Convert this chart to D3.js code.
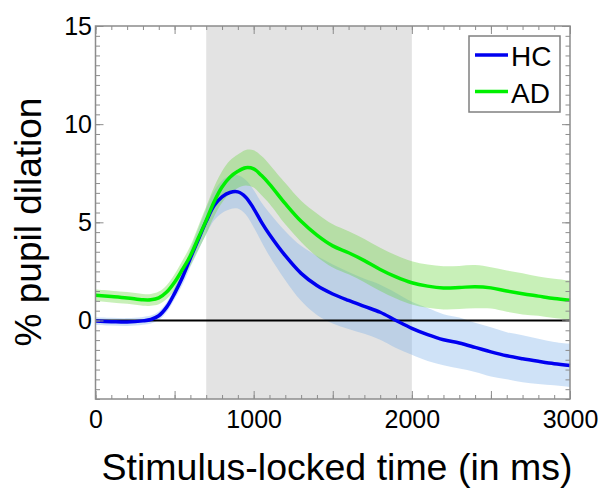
<!DOCTYPE html>
<html>
<head>
<meta charset="utf-8">
<script src="https://cdn.jsdelivr.net/npm/d3@7"></script>
<style>
  body { margin: 0; background: #fff; }
  svg { display: block; font-family: "Liberation Sans", Arial, sans-serif; }
</style>
</head>
<body>
<svg width="603" height="490"></svg>
<script>
// pupil dilation time course, HC vs AD, mean +/- sem
const times = [0,100,200,300,350,400,450,500,550,600,650,700,750,800,850,900,950,1000,1050,1100,
  1200,1300,1400,1500,1600,1700,1800,1900,2000,2100,2200,2300,2400,2500,2600,2700,2800,2900,3000];
const hcMean = [-0.03,-0.06,-0.08,-0.02,0.05,0.24,0.68,1.38,2.2,3.18,4.12,5.05,5.85,6.3,6.52,6.55,6.28,5.7,5.0,4.38,
  3.3,2.4,1.78,1.35,1.02,0.72,0.42,0.0,-0.4,-0.72,-0.98,-1.15,-1.37,-1.6,-1.8,-1.95,-2.08,-2.2,-2.29];
const hcSem = [0.2,0.2,0.2,0.2,0.2,0.22,0.25,0.3,0.38,0.45,0.55,0.65,0.75,0.82,0.85,0.85,0.88,0.95,1.0,1.1,
  1.25,1.4,1.5,1.5,1.45,1.4,1.4,1.4,1.35,1.35,1.3,1.3,1.25,1.25,1.2,1.2,1.15,1.1,1.1];
const adMean = [1.28,1.22,1.15,1.05,1.05,1.15,1.45,1.95,2.6,3.3,4.2,5.1,6.05,6.8,7.3,7.6,7.78,7.72,7.38,6.95,
  5.95,5.05,4.35,3.8,3.45,3.05,2.6,2.22,1.92,1.75,1.66,1.68,1.72,1.66,1.5,1.36,1.24,1.12,1.03];
const adSem = [0.3,0.3,0.3,0.3,0.3,0.32,0.35,0.4,0.45,0.5,0.6,0.7,0.75,0.8,0.85,0.85,0.9,0.95,1.0,1.0,
  1.05,1.05,1.1,1.1,1.1,1.1,1.1,1.1,1.1,1.1,1.1,1.1,1.1,1.05,1.05,1.05,1.0,1.0,1.0];
const shadeWindow = [700, 2000];
const xTickLabels = [0, 1000, 2000, 3000];
const yTickLabels = [0, 5, 10, 15];
const groups = ["HC", "AD"];

const svg = d3.select('svg');
const pLeft = 95.5, pRight = 570, pTop = 26, pBottom = 399;

const x = d3.scaleLinear().domain([0, 3000]).range([pLeft, pRight]);
const y = d3.scaleLinear().domain([-4, 15]).range([pBottom, pTop]);

const series = [
  {name: groups[0], mean: hcMean, sem: hcSem, line: '#0000f0', band: 'rgb(117,171,232)'},
  {name: groups[1], mean: adMean, sem: adSem, line: '#00f000', band: 'rgb(97,211,51)'}
];

// stimulus window
svg.append('rect')
  .attr('x', x(shadeWindow[0]))
  .attr('y', pTop)
  .attr('width', x(shadeWindow[1]) - x(shadeWindow[0]))
  .attr('height', pBottom - pTop)
  .attr('fill', '#e3e3e3');

const curve = d3.curveCatmullRom.alpha(0.5);

series.forEach(function(s) {
  const area = d3.area()
    .x(function(d, i) { return x(times[i]); })
    .y0(function(d, i) { return y(s.mean[i] - s.sem[i]); })
    .y1(function(d, i) { return y(s.mean[i] + s.sem[i]); })
    .curve(curve);
  svg.append('path')
    .datum(s.mean)
    .attr('d', area)
    .attr('fill', s.band)
    .attr('fill-opacity', 0.35);
});

// zero line
svg.append('line')
  .attr('x1', x(0)).attr('x2', x(3000))
  .attr('y1', y(0)).attr('y2', y(0))
  .attr('stroke', '#000')
  .attr('stroke-width', 2);

series.forEach(function(s) {
  const line = d3.line()
    .x(function(d, i) { return x(times[i]); })
    .y(function(d) { return y(d); })
    .curve(curve);
  svg.append('path')
    .datum(s.mean)
    .attr('d', line)
    .attr('fill', 'none')
    .attr('stroke', s.line)
    .attr('stroke-width', 3.5);
});

// axes, ticks pointing inward
const axisColor = '#8c8c8c';
const xMinor = d3.range(0, 3001, 100);
const xMajor = d3.range(0, 3001, 500);
const yMinor = d3.range(-4, 15.01, 0.5);
const yMajor = yTickLabels;

function styleAxis(g) {
  g.select('.domain').remove();
  g.selectAll('.tick line').attr('stroke', axisColor).attr('stroke-width', 1);
  g.selectAll('.tick text').attr('fill', '#000').attr('font-size', 25)
    .attr('font-family', '"Liberation Sans", Arial, sans-serif');
}

svg.append('g').attr('transform', 'translate(0,' + pBottom + ')')
  .call(d3.axisBottom(x).tickValues(xMinor).tickSize(-4).tickFormat(''))
  .call(styleAxis);
svg.append('g').attr('transform', 'translate(0,' + pBottom + ')')
  .call(d3.axisBottom(x).tickValues(xMajor).tickSize(-8).tickPadding(11)
    .tickFormat(function(d) { return xTickLabels.indexOf(d) >= 0 ? d : ''; }))
  .call(styleAxis);
svg.append('g').attr('transform', 'translate(0,' + pTop + ')')
  .call(d3.axisTop(x).tickValues(xMinor).tickSize(-4).tickFormat(''))
  .call(styleAxis);
svg.append('g').attr('transform', 'translate(0,' + pTop + ')')
  .call(d3.axisTop(x).tickValues(xMajor).tickSize(-8).tickFormat(''))
  .call(styleAxis);

svg.append('g').attr('transform', 'translate(' + pLeft + ',0)')
  .call(d3.axisLeft(y).tickValues(yMinor).tickSize(-4.5).tickFormat(''))
  .call(styleAxis);
svg.append('g').attr('transform', 'translate(' + pLeft + ',0)')
  .call(d3.axisLeft(y).tickValues(yMajor).tickSize(-8).tickPadding(3.5))
  .call(styleAxis);
svg.append('g').attr('transform', 'translate(' + pRight + ',0)')
  .call(d3.axisRight(y).tickValues(yMinor).tickSize(-4.5).tickFormat(''))
  .call(styleAxis);
svg.append('g').attr('transform', 'translate(' + pRight + ',0)')
  .call(d3.axisRight(y).tickValues(yMajor).tickSize(-8).tickFormat(''))
  .call(styleAxis);

// frame
svg.append('rect')
  .attr('x', pLeft).attr('y', pTop)
  .attr('width', pRight - pLeft).attr('height', pBottom - pTop)
  .attr('fill', 'none')
  .attr('stroke', axisColor)
  .attr('stroke-width', 1.5);

// axis titles
svg.append('text')
  .attr('x', 337).attr('y', 480)
  .attr('text-anchor', 'middle')
  .attr('font-size', 37.5)
  .text('Stimulus-locked time (in ms)');
svg.append('text')
  .attr('transform', 'translate(41,222) rotate(-90)')
  .attr('text-anchor', 'middle')
  .attr('font-size', 37)
  .text('% pupil dilation');

// legend
const legend = svg.append('g');
legend.append('rect')
  .attr('x', 469).attr('y', 36)
  .attr('width', 91).attr('height', 76)
  .attr('fill', '#fff')
  .attr('stroke', '#808080')
  .attr('stroke-width', 1.5);
const legendY = [55, 91.5];
series.forEach(function(s, i) {
  legend.append('line')
    .attr('x1', 475).attr('x2', 508)
    .attr('y1', legendY[i]).attr('y2', legendY[i])
    .attr('stroke', s.line)
    .attr('stroke-width', 3.5);
  legend.append('text')
    .attr('x', 511).attr('y', legendY[i] + 11)
    .attr('font-size', 28)
    .text(s.name);
});
</script>
</body>
</html>
